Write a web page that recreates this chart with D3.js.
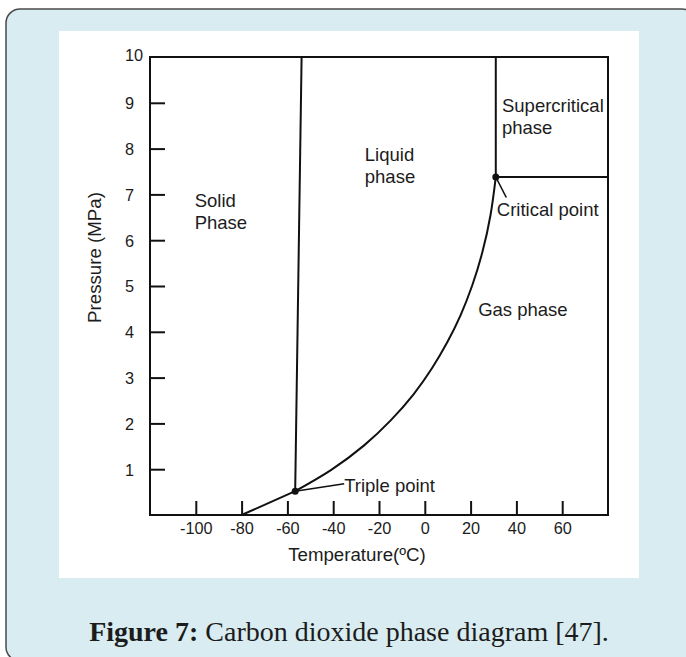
<!DOCTYPE html>
<html>
<head>
<meta charset="utf-8">
<script src="https://cdn.jsdelivr.net/npm/d3@7/dist/d3.min.js"></script>
<style>
  html, body { margin: 0; padding: 0; background: #ffffff; }
  svg { display: block; }
  text { font-family: "Liberation Sans", Arial, sans-serif; fill: #1c1c1c; }
</style>
</head>
<body>
<svg id="chart" width="686" height="657"></svg>
<script>
// ---- data ----
const xTicks = [-100, -80, -60, -40, -20, 0, 20, 40, 60];
const yTicks = [1, 2, 3, 4, 5, 6, 7, 8, 9, 10];
const sublimationCurve = [[-80, 0], [-56.6, 0.52]];
const meltingCurve = [[-56.6, 0.52], [-53.8, 10]];
const vaporCurve = [[-56.6, 0.52], [-41, 0.98], [-26.5, 1.52], [-15, 2.06], [-5, 2.63], [3.2, 3.21],
                    [9.8, 3.77], [15.6, 4.36], [20.7, 5.01], [25.1, 5.73], [28.7, 6.55], [31, 7.38]];
const criticalVertical = [[31, 7.38], [31, 10]];
const criticalHorizontal = [[31, 7.38], [80, 7.38]];
const triplePoint = [-56.6, 0.52];
const criticalPoint = [31, 7.38];
const phaseLabels = [
  {lines: ["Solid", "Phase"], t: -100.5, p: 6.73},
  {lines: ["Liquid", "phase"], t: -26.2, p: 7.73},
  {lines: ["Supercritical", "phase"], t: 33.7, p: 8.81},
  {lines: ["Gas phase"], t: 23.3, p: 4.35}
];
const xTitle = "Temperature(ºC)";
const yTitle = "Pressure (MPa)";

// ---- layout ----
const svg = d3.select("#chart");
svg.append("rect").attr("x", 6).attr("y", 9).attr("width", 690).attr("height", 652)
  .attr("rx", 14).attr("ry", 14)
  .attr("fill", "#d8ecf1").attr("stroke", "#4a4a4a").attr("stroke-width", 1.5);
svg.append("rect").attr("x", 59).attr("y", 31).attr("width", 580).attr("height", 547).attr("fill", "#ffffff");

const x = d3.scaleLinear().domain([-120, 80]).range([150, 608]);
const y = d3.scaleLinear().domain([0, 10]).range([515, 57]);

const g = svg.append("g");

// y axis
const yAxis = g.append("g").attr("transform", "translate(150,0)")
  .call(d3.axisLeft(y).tickValues(yTicks).tickSize(-15).tickSizeOuter(0).tickFormat(d => String(d)));
yAxis.select(".domain").remove();
yAxis.selectAll(".tick line").attr("stroke", "#111").attr("stroke-width", 2);
yAxis.selectAll(".tick").filter(d => d === 10).select("line").remove();
yAxis.selectAll(".tick text").attr("x", -25).attr("text-anchor", "start").attr("dy", "0.36em")
  .style("font-size", "16.3px").style("font-family", "Liberation Sans, Arial, sans-serif").attr("fill", "#1c1c1c");
yAxis.selectAll(".tick").filter(d => d === 10).select("text").attr("transform", "translate(0,-2)");

// x axis
const xAxis = g.append("g").attr("transform", "translate(0,515)")
  .call(d3.axisBottom(x).tickValues(xTicks).tickSize(-14).tickSizeOuter(0).tickFormat(d => String(d)));
xAxis.select(".domain").remove();
xAxis.selectAll(".tick line").attr("stroke", "#111").attr("stroke-width", 2);
xAxis.selectAll(".tick text").attr("y", 19).attr("dy", 0)
  .style("font-size", "16.3px").style("font-family", "Liberation Sans, Arial, sans-serif").attr("fill", "#1c1c1c");

// frame
g.append("rect").attr("x", x(-120)).attr("y", y(10))
  .attr("width", x(80) - x(-120)).attr("height", y(0) - y(10))
  .attr("fill", "none").attr("stroke", "#111").attr("stroke-width", 2);

// curves
const straight = d3.line().x(d => x(d[0])).y(d => y(d[1]));
const smooth = d3.line().x(d => x(d[0])).y(d => y(d[1])).curve(d3.curveNatural);
[sublimationCurve, meltingCurve, criticalVertical, criticalHorizontal].forEach(c => {
  g.append("path").attr("d", straight(c)).attr("fill", "none").attr("stroke", "#111").attr("stroke-width", 2);
});
g.append("path").attr("d", smooth(vaporCurve)).attr("fill", "none").attr("stroke", "#111").attr("stroke-width", 2);

// points
[triplePoint, criticalPoint].forEach(p => {
  g.append("circle").attr("cx", x(p[0])).attr("cy", y(p[1])).attr("r", 3.5).attr("fill", "#111");
});

// leader lines + annotation text
g.append("line").attr("x1", x(triplePoint[0])).attr("y1", y(triplePoint[1]))
  .attr("x2", x(triplePoint[0]) + 49).attr("y2", y(triplePoint[1]) - 7.5)
  .attr("stroke", "#111").attr("stroke-width", 1.6);
g.append("text").attr("x", x(triplePoint[0]) + 49).attr("y", y(triplePoint[1]) + 0.6)
  .style("font-size", "18.5px").text("Triple point");

g.append("line").attr("x1", x(criticalPoint[0])).attr("y1", y(criticalPoint[1]))
  .attr("x2", x(criticalPoint[0]) + 10.5).attr("y2", y(criticalPoint[1]) + 20.5)
  .attr("stroke", "#111").attr("stroke-width", 1.6);
g.append("text").attr("x", x(criticalPoint[0]) + 1).attr("y", y(criticalPoint[1]) + 39)
  .style("font-size", "18.5px").text("Critical point");

// phase labels
phaseLabels.forEach(lab => {
  const t = g.append("text").attr("x", x(lab.t)).attr("y", y(lab.p)).style("font-size", "18.5px");
  lab.lines.forEach((ln, i) => {
    t.append("tspan").attr("x", x(lab.t)).attr("dy", i === 0 ? 0 : 22.5).text(ln);
  });
});

// axis titles
g.append("text").attr("x", (x(-120) + x(80)) / 2 - 22).attr("y", 561)
  .attr("text-anchor", "middle").style("font-size", "18.7px").text(xTitle);
g.append("text").attr("transform", "translate(101,257.5) rotate(-90)")
  .attr("text-anchor", "middle").style("font-size", "18.7px").text(yTitle);

// caption
const cap = svg.append("text").attr("x", 349).attr("y", 641).attr("text-anchor", "middle")
  .style("font-family", "Liberation Serif, 'Times New Roman', serif").style("font-size", "28px").attr("fill", "#111");
cap.append("tspan").style("font-weight", "bold").text("Figure 7:");
cap.append("tspan").text(" Carbon dioxide phase diagram [47].");
</script>
</body>
</html>
